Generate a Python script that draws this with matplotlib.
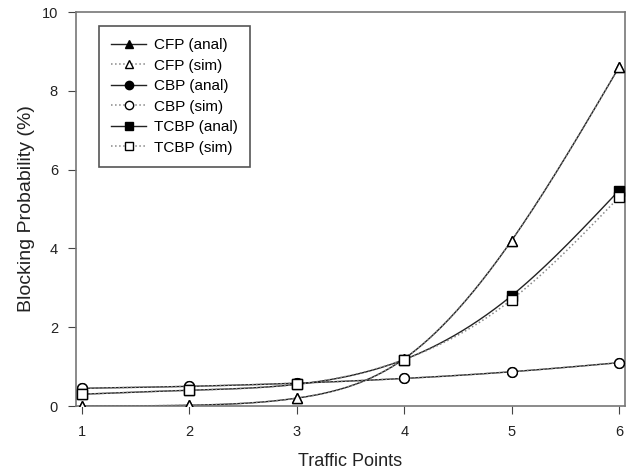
import numpy as np
import matplotlib
matplotlib.use("Agg")
import matplotlib.pyplot as plt

plt.rcParams['font.family'] = ['Liberation Sans', 'DejaVu Sans']

traffic = [1, 2, 3, 4, 5, 6]
cfp_anal = [0.0, 0.02, 0.2, 1.2, 4.2, 8.6]
cfp_sim = [0.0, 0.02, 0.2, 1.2, 4.2, 8.6]
cbp_anal = [0.45, 0.5, 0.58, 0.7, 0.87, 1.1]
cbp_sim = [0.45, 0.5, 0.58, 0.7, 0.87, 1.1]
tcbp_anal = [0.3, 0.4, 0.55, 1.18, 2.8, 5.47]
tcbp_sim = [0.3, 0.4, 0.55, 1.18, 2.7, 5.3]


def smooth(x, y, n=200):
    # natural cubic spline through the points
    x = np.asarray(x, float)
    y = np.asarray(y, float)
    k = len(x)
    h = np.diff(x)
    A = np.zeros((k, k))
    b = np.zeros(k)
    A[0, 0] = A[-1, -1] = 1
    for i in range(1, k - 1):
        A[i, i - 1] = h[i - 1]
        A[i, i] = 2 * (h[i - 1] + h[i])
        A[i, i + 1] = h[i]
        b[i] = 6 * ((y[i + 1] - y[i]) / h[i] - (y[i] - y[i - 1]) / h[i - 1])
    m = np.linalg.solve(A, b)
    xs = np.linspace(x[0], x[-1], n)
    idx = np.clip(np.searchsorted(x, xs) - 1, 0, k - 2)
    x0, x1 = x[idx], x[idx + 1]
    hh = x1 - x0
    t0, t1 = x1 - xs, xs - x0
    ys = (m[idx] * t0 ** 3 + m[idx + 1] * t1 ** 3) / (6 * hh) \
        + (y[idx] / hh - m[idx] * hh / 6) * t0 \
        + (y[idx + 1] / hh - m[idx + 1] * hh / 6) * t1
    return xs, ys


fig = plt.figure(figsize=(6.35, 4.73), dpi=100)
ax = fig.add_axes([0.1197, 0.1416, 0.8646, 0.833])

series = [
    ("CFP (anal)", cfp_anal, "^", "black", "-"),
    ("CFP (sim)", cfp_sim, "^", "white", ":"),
    ("CBP (anal)", cbp_anal, "o", "black", "-"),
    ("CBP (sim)", cbp_sim, "o", "white", ":"),
    ("TCBP (anal)", tcbp_anal, "s", "black", "-"),
    ("TCBP (sim)", tcbp_sim, "s", "white", ":"),
]

for label, vals, mk, fc, ls in series:
    xs, ys = smooth(traffic, vals)
    lc = "#222222" if ls == "-" else "#888888"
    lw = 1.0 if ls == "-" else 1.1
    ax.plot(xs, ys, color=lc, lw=lw, ls=ls, zorder=2)
    ax.plot(traffic, vals, ls="none", marker=mk, ms=7, mfc=fc,
            mec="black", mew=1.0, zorder=3)
    ax.plot([], [], color=lc, lw=lw, ls=ls, marker=mk, ms=6, mfc=fc,
            mec="black", mew=1.0, label=label)

ax.set_xlim(0.944, 6.056)
ax.set_ylim(0, 10)
ax.set_xticks(traffic)
ax.set_yticks([0, 2, 4, 6, 8, 10])
ax.tick_params(labelsize=10.5, length=6, color="#444444", colors="#222222")
ax.tick_params(axis="x", pad=8)
ax.tick_params(axis="y", pad=7)
for s in ax.spines.values():
    s.set_color("#777777")
    s.set_linewidth(1.2)

ax.set_xlabel("Traffic Points", fontsize=13, color="#222222", labelpad=10)
ax.set_ylabel("Blocking Probability (%)", fontsize=14, color="#222222", labelpad=5)

leg = ax.legend(loc="upper left", bbox_to_anchor=(0.042, 0.964), borderaxespad=0,
                fontsize=11, fancybox=False, edgecolor="#555555", framealpha=1,
                handlelength=2.3, handletextpad=0.5, borderpad=0.8,
                labelspacing=0.42)
leg.get_frame().set_linewidth(1.2)

fig.savefig("out.png", dpi=100)
